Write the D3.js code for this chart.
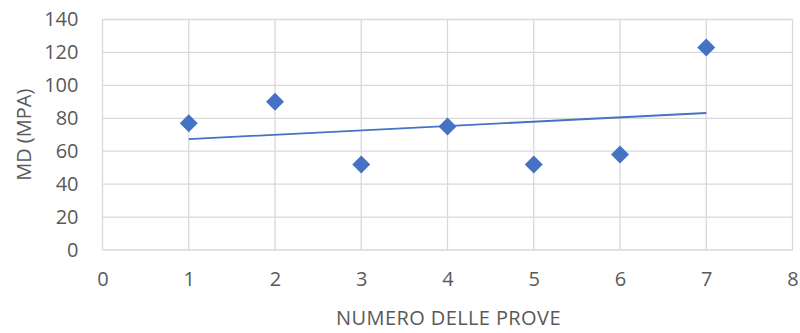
<!DOCTYPE html>
<html>
<head>
<meta charset="utf-8">
<script src="https://cdn.jsdelivr.net/npm/d3@7/dist/d3.min.js"></script>
<style>
  html, body { margin: 0; padding: 0; background: #ffffff; }
  svg { display: block; }
</style>
</head>
<body>
<svg id="chart" width="800" height="333"></svg>
<script>
// Test number vs. measured MD (MPa)
const prove = [1, 2, 3, 4, 5, 6, 7];
const md = [77, 90, 52, 75, 52, 58, 123];
const xTicks = [0, 1, 2, 3, 4, 5, 6, 7, 8];
const yTicks = [0, 20, 40, 60, 80, 100, 120, 140];

const svg = d3.select("#chart");
const margin = { left: 102.5, right: 7.5, top: 19.5, bottom: 83 };
const W = 800, H = 333;

const x = d3.scaleLinear().domain([0, 8]).range([margin.left, W - margin.right]);
const y = d3.scaleLinear().domain([0, 140]).range([H - margin.bottom, margin.top]);

const gridColor = "#d9d9d9";
const textColor = "#595959";
const blue = "#4472C4";
const font = "'Open Sans', sans-serif";

// gridlines
const grid = svg.append("g");
grid.selectAll("line.h").data(yTicks).join("line")
  .attr("x1", x(0)).attr("x2", x(8))
  .attr("y1", d => y(d)).attr("y2", d => y(d))
  .attr("stroke", gridColor).attr("stroke-width", 1.3);
grid.selectAll("line.v").data(xTicks).join("line")
  .attr("y1", y(0)).attr("y2", y(140))
  .attr("x1", d => x(d)).attr("x2", d => x(d))
  .attr("stroke", gridColor).attr("stroke-width", 1.3);

// axes (labels only)
const xAxis = svg.append("g")
  .attr("transform", `translate(0,${y(0)})`)
  .call(d3.axisBottom(x).tickValues(xTicks).tickSize(0).tickPadding(22).tickFormat(d3.format("d")));
const yAxis = svg.append("g")
  .attr("transform", `translate(${x(0)},0)`)
  .call(d3.axisLeft(y).tickValues(yTicks).tickSize(0).tickPadding(24).tickFormat(d3.format("d")));
[xAxis, yAxis].forEach(g => {
  g.select(".domain").remove();
  g.selectAll("text").attr("fill", textColor).style("font-family", font).style("font-size", "20px");
});

// linear trendline (least squares)
const mx = d3.mean(prove), my = d3.mean(md);
const slope = d3.sum(prove.map((v, i) => (v - mx) * (md[i] - my))) / d3.sum(prove.map(v => (v - mx) ** 2));
const intercept = my - slope * mx;
const x0 = d3.min(prove), x1 = d3.max(prove);
svg.append("line")
  .attr("x1", x(x0)).attr("y1", y(intercept + slope * x0))
  .attr("x2", x(x1)).attr("y2", y(intercept + slope * x1))
  .attr("stroke", blue).attr("stroke-width", 1.8);

// diamond markers
const diamond = d3.symbol().type(d3.symbolSquare).size(162);
svg.append("g").selectAll("path").data(prove).join("path")
  .attr("d", diamond)
  .attr("transform", (d, i) => `translate(${x(d)},${y(md[i])}) rotate(45)`)
  .attr("fill", blue);

// axis titles
svg.append("text")
  .attr("x", (x(0) + x(8)) / 2 + 1).attr("y", 325)
  .attr("text-anchor", "middle")
  .attr("fill", textColor).style("font-family", font).style("font-size", "20px")
  .style("letter-spacing", "0.4px")
  .text("NUMERO DELLE PROVE");
svg.append("text")
  .attr("transform", `translate(31,${(y(0) + y(140)) / 2}) rotate(-90)`)
  .attr("text-anchor", "middle")
  .attr("fill", textColor).style("font-family", font).style("font-size", "20px")
  .text("MD (MPA)");
</script>
</body>
</html>
